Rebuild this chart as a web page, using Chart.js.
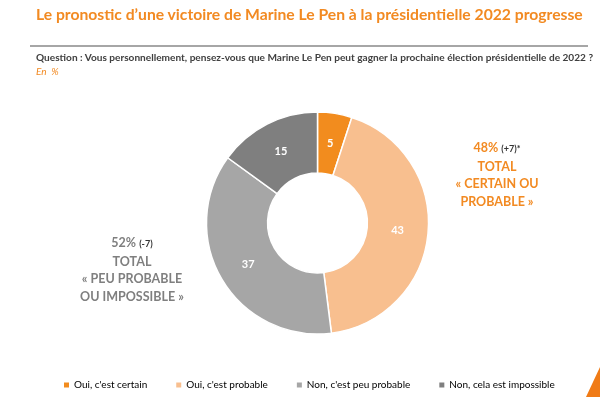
<!DOCTYPE html>
<html lang="fr">
<head>
<meta charset="UTF-8">
<title>Pronostic Marine Le Pen 2022</title>
<script src="https://cdn.jsdelivr.net/npm/chart.js"></script>
<style>
  body { margin: 0; width: 600px; height: 397px; overflow: hidden; background: #fff; font-family: Lato, "Open Sans", sans-serif; position: relative; }
  .abs { position: absolute; white-space: nowrap; }
  #titre { left: 36px; top: 5px; font-size: 15.7px; font-weight: bold; color: #F28A22; }
  #trait { left: 30px; top: 45px; width: 558px; height: 2px; background: #a6a6a6; }
  #question { left: 36px; top: 51px; font-size: 10.1px; font-weight: bold; color: #404040; }
  #unite { left: 36px; top: 65px; font-size: 10px; font-style: italic; color: #F28A22; }
  .total { font-weight: bold; font-size: 12.5px; line-height: 17.7px; text-align: center; }
  .total small { font-size: 9px; color: #333; }
  #oui { left: 432px; top: 139px; width: 130px; color: #F28A22; }
  #non { left: 62px; top: 234px; width: 140px; color: #7f7f7f; }
  #coin { right: 0; bottom: 0; width: 14px; height: 30px; background: #F07B16; clip-path: polygon(100% 0, 100% 100%, 0 100%); }
  #graph { position: absolute; left: 0; top: 0; width: 600px; height: 400px; }
</style>
</head>
<body>
<div id="graph"><canvas id="donut"></canvas></div>
<div class="abs" id="titre">Le pronostic d’une victoire de Marine Le Pen à la présidentielle 2022 progresse</div>
<div class="abs" id="trait"></div>
<div class="abs" id="question">Question : Vous personnellement, pensez-vous que Marine Le Pen peut gagner la prochaine élection présidentielle de 2022 ?</div>
<div class="abs" id="unite">En&nbsp; %</div>
<div class="abs total" id="oui">48% <small>(+7)*</small><br>TOTAL<br>« CERTAIN OU<br>PROBABLE »</div>
<div class="abs total" id="non">52% <small>(-7)</small><br>TOTAL<br>« PEU PROBABLE<br>OU IMPOSSIBLE »</div>
<div class="abs" id="coin"></div>
<script>
    // données
    const reponses = ["Oui, c'est certain", "Oui, c'est probable", "Non, c'est peu probable", "Non, cela est impossible"];
    const pourcentages = [5, 43, 37, 15];
    const couleurs = ['#F28C1E', '#F8BF8F', '#A6A6A6', '#7F7F7F'];

    // valeurs écrites dans chaque part
    const etiquettes = {
        id: 'etiquettes',
        afterDatasetsDraw(chart) {
            const ctx = chart.ctx;
            const meta = chart.getDatasetMeta(0);
            ctx.save();
            ctx.font = 'bold 11px Lato, sans-serif';
            ctx.fillStyle = '#fff';
            ctx.textAlign = 'center';
            ctx.textBaseline = 'middle';
            meta.data.forEach(function (arc, i) {
                const p = arc.tooltipPosition();
                ctx.fillText(pourcentages[i], p.x, p.y);
            });
            ctx.restore();
        }
    };

    new Chart(document.getElementById('donut'), {
        type: 'doughnut',
        data: {
            labels: reponses,
            datasets: [{
                data: pourcentages,
                backgroundColor: couleurs,
                borderColor: '#fff',
                borderWidth: 1.5
            }]
        },
        options: {
            responsive: true,
            maintainAspectRatio: false,
            animation: false,
            radius: 111,
            cutout: '45%',
            layout: { padding: { top: 95, bottom: 0, left: 35, right: 0 } },
            plugins: {
                tooltip: { enabled: false },
                legend: {
                    position: 'bottom',
                    align: 'start',
                    labels: {
                        boxWidth: 5,
                        boxHeight: 5,
                        padding: 29,
                        color: '#595959',
                        font: { family: 'Lato, sans-serif', size: 10 },
                        generateLabels(chart) {
                            return reponses.map(function (r, i) {
                                return { text: r, fillStyle: couleurs[i], strokeStyle: couleurs[i], lineWidth: 0, index: i };
                            });
                        }
                    }
                }
            }
        },
        plugins: [etiquettes]
    });
</script>
</body>
</html>
